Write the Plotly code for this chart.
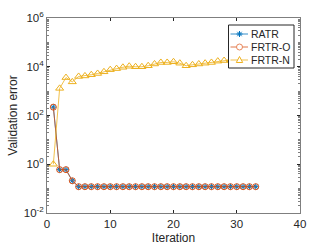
import plotly.graph_objects as go

iters_o = list(range(1, 34))
ratr = [220, 0.6, 0.6, 0.21] + [0.12] * 29
frtr_o = [220, 0.6, 0.6, 0.21] + [0.12] * 29
iters_n = list(range(1, 34))
frtr_n = [1.0, 1300, 3600, 2400, 4000, 4200, 4700, 5300, 6200, 7600, 8400, 9500,
          10500, 10000, 10000, 11000, 13000, 15000, 15000, 16000, 14000, 11000,
          12000, 13000, 14000, 15000, 17000, 18000, 19000, 20000, 21000, 22000, 23000]

series_names = ["RATR", "FRTR-O", "FRTR-N"]
series_colors = ["#0072BD", "#D95319", "#EDB120"]
marker_colors = ["#0072BD", "#E8865A", "#EDB120"]

ytick_vals = [1e-2, 1, 1e2, 1e4, 1e6]
ytick_text = ["10<sup>-2</sup>", "10<sup>0</sup>", "10<sup>2</sup>", "10<sup>4</sup>", "10<sup>6</sup>"]
xtick_vals = [0, 10, 20, 30, 40]

W, H = 332, 249
ML, MR, MT, MB = 47, 32, 18, 36
PW, PH = W - ML - MR, H - MT - MB


def px(x):
    return (x - ML) / PW


def py(y):
    return (H - MB - y) / PH


fig = go.Figure()
fig.add_trace(go.Scatter(x=iters_o, y=ratr, name=series_names[0], mode="lines+markers",
                         line=dict(color=series_colors[0], width=0.8),
                         marker=dict(symbol="asterisk-open", size=5,
                                     line=dict(color=marker_colors[0], width=1))))
fig.add_trace(go.Scatter(x=iters_o, y=frtr_o, name=series_names[1], mode="lines+markers",
                         line=dict(color=series_colors[1], width=0.8),
                         marker=dict(symbol="circle-open", size=6,
                                     line=dict(color=marker_colors[1], width=1))))
fig.add_trace(go.Scatter(x=iters_n, y=frtr_n, name=series_names[2], mode="lines+markers",
                         line=dict(color=series_colors[2], width=0.8),
                         marker=dict(symbol="triangle-up-open", size=7,
                                     line=dict(color=marker_colors[2], width=1))))

axis_common = dict(showgrid=False, zeroline=False, showline=True, linecolor="#7f7f7f",
                   linewidth=1, mirror="ticks", ticks="inside", ticklen=3, automargin=False,
                   tickcolor="#262626", tickfont=dict(family="Liberation Sans, Arial", size=11.5, color="#262626"))

# custom MATLAB-like legend (box, line samples, marker glyphs, labels)
shapes = [dict(type="rect", xref="paper", yref="paper",
               x0=px(228.5), x1=px(294), y0=py(68), y1=py(25),
               line=dict(color="#262626", width=1), fillcolor="white", layer="above")]
annotations = []
row_y = [34, 47, 60]
glyph_paths = [
    "M-3,0H3M0,-3V3M-2.2,-2.2L2.2,2.2M-2.2,2.2L2.2,-2.2",
    None,
    "M0,3.5L3.2,-2.5L-3.2,-2.5Z",
]
for i, name in enumerate(series_names):
    yy = py(row_y[i])
    shapes.append(dict(type="line", xref="paper", yref="paper",
                       x0=px(230.5), x1=px(248), y0=yy, y1=yy,
                       line=dict(color=series_colors[i], width=0.8), layer="above"))
    if glyph_paths[i] is None:
        shapes.append(dict(type="circle", xref="paper", yref="paper",
                           xsizemode="pixel", ysizemode="pixel",
                           xanchor=px(239.5), yanchor=yy, x0=-3, x1=3, y0=-3, y1=3,
                           line=dict(color=marker_colors[i], width=1),
                           fillcolor="white", layer="above"))
    else:
        shapes.append(dict(type="path", xref="paper", yref="paper",
                           xsizemode="pixel", ysizemode="pixel",
                           xanchor=px(239.5), yanchor=yy, path=glyph_paths[i],
                           line=dict(color=marker_colors[i], width=1),
                           fillcolor="white" if i == 2 else None, layer="above"))
    annotations.append(dict(text=name, xref="paper", yref="paper", x=px(249), y=yy,
                            xanchor="left", yanchor="middle", showarrow=False,
                            font=dict(size=10.5, color="#262626",
                                      family="Liberation Sans, Arial")))

fig.update_layout(
    width=W, height=H,
    margin=dict(l=ML, r=MR, t=MT, b=MB),
    paper_bgcolor="white", plot_bgcolor="white",
    font=dict(family="Liberation Sans, Arial", color="#262626"),
    xaxis=dict(range=[0, 40], tickvals=xtick_vals,
               title=dict(text="Iteration", font=dict(size=12), standoff=4), **axis_common),
    yaxis=dict(type="log", range=[-2, 6], tickvals=ytick_vals, ticktext=ytick_text,
               minor=dict(ticks="inside", ticklen=2, tickcolor="#7f7f7f", dtick="D1"),
               title=dict(text="Validation error", font=dict(size=12), standoff=3), **axis_common),
    shapes=shapes,
    annotations=annotations,
    showlegend=False,
)

fig.write_html("out.html", config={"displayModeBar": False},
               post_script="document.body.style.margin='0';document.body.style.overflow='hidden';")
